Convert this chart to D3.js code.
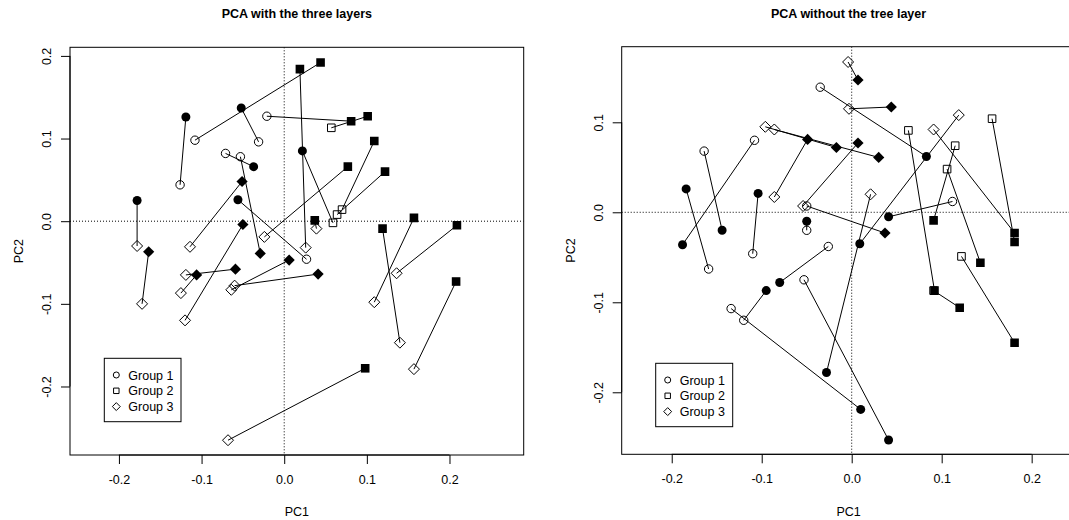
<!DOCTYPE html>
<html>
<head>
<meta charset="utf-8">
<script src="https://cdn.jsdelivr.net/npm/d3@7"></script>
<style>
  html, body { margin: 0; padding: 0; background: #fff; }
  svg { display: block; }
  text { font-family: "Liberation Sans", Arial, Helvetica, sans-serif; fill: #000; }
</style>
</head>
<body>
<svg id="chart" width="1069" height="520"></svg>
<script>
// ---------------- DATA ----------------
// groups: 1 = circle, 2 = square, 3 = diamond
// filled symbol i is joined by a segment to open symbol i

// Panel 1: PCA with the three layers
const left_filled_x = [-0.052,-0.119,-0.037,-0.056,-0.178, 0.022, 0.019, 0.044, 0.081, 0.101, 0.109, 0.077, 0.122, 0.037, 0.119, 0.157, 0.209, 0.208, 0.098,-0.051,-0.050,-0.164,-0.029,-0.059,-0.106, 0.006, 0.041];
const left_filled_y = [ 0.137, 0.126, 0.066, 0.026, 0.025, 0.085, 0.184, 0.192, 0.121, 0.127, 0.097, 0.066, 0.060, 0.001,-0.009, 0.004,-0.005,-0.073,-0.178, 0.048,-0.004,-0.037,-0.039,-0.058,-0.065,-0.047,-0.064];
const left_filled_group = [1,1,1,1,1,1,2,2,2,2,2,2,2,2,2,2,2,2,2,3,3,3,3,3,3,3,3];
const left_open_x = [-0.031,-0.126,-0.071, 0.027,-0.178, 0.059, 0.026,-0.108,-0.021, 0.057, 0.070,-0.024, 0.064, 0.039, 0.140, 0.109, 0.136, 0.157,-0.068,-0.114,-0.120,-0.172,-0.053,-0.119,-0.125,-0.064,-0.060];
const left_open_y = [ 0.096, 0.044, 0.082,-0.046,-0.030,-0.002,-0.032, 0.098, 0.127, 0.113, 0.014,-0.019, 0.008,-0.009,-0.147,-0.098,-0.063,-0.179,-0.265,-0.031,-0.120,-0.100, 0.078,-0.065,-0.087,-0.083,-0.078];
const left_open_group = [1,1,1,1,3,2,3,1,1,2,2,3,2,3,3,3,3,3,3,3,3,3,1,3,3,3,3];

// Panel 2: PCA without the tree layer
const right_filled_x = [ 0.007, 0.044, 0.083,-0.017, 0.030,-0.049, 0.007,-0.188,-0.144,-0.184,-0.104, 0.092, 0.181, 0.181, 0.009,-0.028, 0.091, 0.143, 0.041, 0.037, 0.041, 0.010,-0.080,-0.095,-0.050, 0.120, 0.181];
const right_filled_y = [ 0.147, 0.117, 0.062, 0.072, 0.061, 0.081, 0.077,-0.036,-0.020, 0.026, 0.021,-0.087,-0.023,-0.033,-0.035,-0.178,-0.009,-0.056,-0.005,-0.023,-0.253,-0.219,-0.078,-0.087,-0.010,-0.106,-0.145];
const right_filled_group = [3,3,1,3,3,3,3,1,1,1,1,2,2,2,1,1,2,2,1,3,1,1,1,1,1,2,2];
const right_open_x = [-0.004,-0.003,-0.035,-0.096,-0.086,-0.086,-0.054,-0.108,-0.164,-0.159,-0.110, 0.063, 0.091, 0.156, 0.119, 0.021, 0.115, 0.106, 0.112,-0.050,-0.053,-0.134,-0.026,-0.120,-0.050, 0.091, 0.122];
const right_open_y = [ 0.167, 0.115, 0.139, 0.095, 0.092, 0.017, 0.007, 0.080, 0.068,-0.063,-0.046, 0.091, 0.092, 0.104, 0.108, 0.020, 0.074, 0.048, 0.012, 0.007,-0.075,-0.107,-0.038,-0.120,-0.020,-0.087,-0.049];
const right_open_group = [3,3,1,3,3,3,3,1,1,1,1,2,3,2,3,3,2,2,1,1,1,1,1,1,1,2,2];

const titles = ["PCA with the three layers", "PCA without the tree layer"];
const xTicks = [-0.2, -0.1, 0.0, 0.1, 0.2];
const xTickLabels = ["-0.2", "-0.1", "0.0", "0.1", "0.2"];
const leftYTicks = [-0.2, -0.1, 0.0, 0.1, 0.2];
const leftYTickLabels = ["-0.2", "-0.1", "0.0", "0.1", "0.2"];
const rightYTicks = [-0.2, -0.1, 0.0, 0.1];
const rightYTickLabels = ["-0.2", "-0.1", "0.0", "0.1"];
const legendLabels = ["Group 1", "Group 2", "Group 3"];
const xLabel = "PC1", yLabel = "PC2";

// ---------------- LAYOUT ----------------
const svg = d3.select("#chart");

const panels = [
  {
    title: titles[0],
    fx: left_filled_x, fy: left_filled_y, fg: left_filled_group,
    ox: left_open_x, oy: left_open_y, og: left_open_group,
    xDomain: [-0.2592, 0.2898], yDomain: [-0.2829, 0.2104],
    box: {l: 70, r: 523.7, t: 47.3, b: 455},
    yTicks: leftYTicks, yTickLabels: leftYTickLabels,
    legend: {x: 104.3, y: 358.3, w: 76.7, h: 63.4}
  },
  {
    title: titles[1],
    fx: right_filled_x, fy: right_filled_y, fg: right_filled_group,
    ox: right_open_x, oy: right_open_y, og: right_open_group,
    xDomain: [-0.2556, 0.2486], yDomain: [-0.2689, 0.184],
    box: {l: 621.7, r: 1075.4, t: 46.7, b: 454.3},
    yTicks: rightYTicks, yTickLabels: rightYTickLabels,
    legend: {x: 655.7, y: 363.3, w: 77, h: 63.4}
  }
];

function symbolPath(g, filled, cx, cy, scale) {
  const s = scale || 1;
  if (g === 1) {
    const r = (filled ? 4.5 : 4.2) * s;
    return `M${cx - r},${cy}a${r},${r} 0 1,0 ${2*r},0a${r},${r} 0 1,0 ${-2*r},0Z`;
  } else if (g === 2) {
    const h = (filled ? 4.3 : 3.8) * s;
    return `M${cx - h},${cy - h}H${cx + h}V${cy + h}H${cx - h}Z`;
  } else {
    const d = (filled ? 5.6 : 5.5) * s;
    return `M${cx},${cy - d}L${cx + d},${cy}L${cx},${cy + d}L${cx - d},${cy}Z`;
  }
}

panels.forEach(p => {
  const g = svg.append("g");
  const x = d3.scaleLinear().domain(p.xDomain).range([p.box.l, p.box.r]);
  const y = d3.scaleLinear().domain(p.yDomain).range([p.box.b, p.box.t]);

  const clipId = "clip" + Math.round(p.box.l);
  svg.append("clipPath").attr("id", clipId)
    .append("rect").attr("x", p.box.l).attr("y", p.box.t)
    .attr("width", p.box.r - p.box.l).attr("height", p.box.b - p.box.t);

  const plot = g.append("g").attr("clip-path", `url(#${clipId})`);

  // dotted reference lines
  plot.append("line")
    .attr("x1", x(0)).attr("x2", x(0)).attr("y1", p.box.t).attr("y2", p.box.b)
    .attr("stroke", "#000").attr("stroke-width", 1).attr("stroke-dasharray", "1,2");
  plot.append("line")
    .attr("x1", p.box.l).attr("x2", p.box.r).attr("y1", y(0)).attr("y2", y(0))
    .attr("stroke", "#000").attr("stroke-width", 1).attr("stroke-dasharray", "1,2");

  const idx = d3.range(p.fx.length);

  plot.selectAll("line.seg").data(idx).join("line").attr("class", "seg")
    .attr("x1", i => x(p.fx[i])).attr("y1", i => y(p.fy[i]))
    .attr("x2", i => x(p.ox[i])).attr("y2", i => y(p.oy[i]))
    .attr("stroke", "#000").attr("stroke-width", 1);

  plot.selectAll("path.open").data(idx).join("path").attr("class", "open")
    .attr("d", i => symbolPath(p.og[i], false, x(p.ox[i]), y(p.oy[i])))
    .attr("fill", "none").attr("stroke", "#000").attr("stroke-width", 1);

  plot.selectAll("path.filled").data(idx).join("path").attr("class", "filled")
    .attr("d", i => symbolPath(p.fg[i], true, x(p.fx[i]), y(p.fy[i])))
    .attr("fill", "#000").attr("stroke", "none");

  g.append("rect")
    .attr("x", p.box.l).attr("y", p.box.t)
    .attr("width", p.box.r - p.box.l).attr("height", p.box.b - p.box.t)
    .attr("fill", "none").attr("stroke", "#000").attr("stroke-width", 1);

  const xAxis = d3.axisBottom(x).tickValues(xTicks)
    .tickFormat((d, i) => xTickLabels[i]).tickSize(9).tickPadding(11);
  const xg = g.append("g").attr("transform", `translate(0,${p.box.b})`).call(xAxis);
  xg.select(".domain").attr("d", `M${x(xTicks[0])},0H${x(xTicks[xTicks.length-1])}`);
  xg.selectAll("text").style("font-size", "12.5px").style("font-family", "Liberation Sans, Arial, sans-serif");

  const yAxis = d3.axisLeft(y).tickValues(p.yTicks)
    .tickFormat((d, i) => p.yTickLabels[i]).tickSize(9).tickPadding(0);
  const yg = g.append("g").attr("transform", `translate(${p.box.l},0)`).call(yAxis);
  yg.select(".domain").attr("d", `M0,${y(p.yTicks[0])}V${y(p.yTicks[p.yTicks.length-1])}`);
  yg.selectAll(".tick text")
    .attr("x", 0).attr("dy", 0)
    .attr("transform", "translate(-19,0) rotate(-90)")
    .attr("text-anchor", "middle")
    .style("font-size", "12.5px").style("font-family", "Liberation Sans, Arial, sans-serif");

  const cx = (p.box.l + p.box.r) / 2;
  g.append("text").attr("x", cx).attr("y", 18).attr("text-anchor", "middle")
    .style("font-weight", "bold").style("font-size", "12.5px").text(p.title);
  g.append("text").attr("x", cx).attr("y", 516).attr("text-anchor", "middle")
    .style("font-size", "12.5px").text(xLabel);
  g.append("text").attr("transform", `translate(${p.box.l - 47},${(p.box.t + p.box.b)/2}) rotate(-90)`)
    .attr("text-anchor", "middle").style("font-size", "12.5px").text(yLabel);

  const L = p.legend;
  const lg = g.append("g");
  lg.append("rect").attr("x", L.x).attr("y", L.y).attr("width", L.w).attr("height", L.h)
    .attr("fill", "#fff").attr("stroke", "#000").attr("stroke-width", 1);
  legendLabels.forEach((lab, i) => {
    const ry = L.y + 16.7 + i * 15.8;
    lg.append("path").attr("d", symbolPath(i + 1, false, L.x + 12, ry, 0.72))
      .attr("fill", "none").attr("stroke", "#000").attr("stroke-width", 1);
    lg.append("text").attr("x", L.x + 24).attr("y", ry + 4.5)
      .style("font-size", "12.5px").text(lab);
  });
});
</script>
</body>
</html>
